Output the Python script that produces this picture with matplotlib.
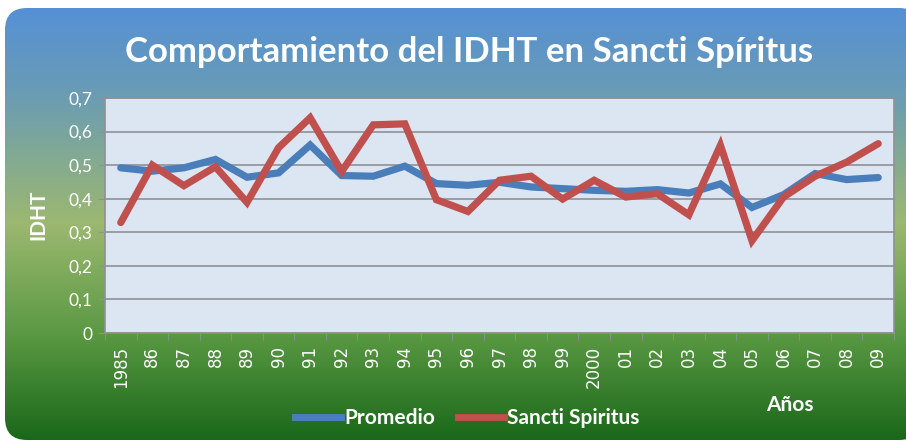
import matplotlib

matplotlib.use("Agg")
import matplotlib.pyplot as plt
import numpy as np
from matplotlib.colors import LinearSegmentedColormap
from matplotlib.patches import FancyBboxPatch
from matplotlib.lines import Line2D

YEARS = ["1985", "86", "87", "88", "89", "90", "91", "92", "93", "94", "95", "96",
         "97", "98", "99", "2000", "01", "02", "03", "04", "05", "06", "07", "08", "09"]
PROMEDIO = [0.492, 0.482, 0.492, 0.517, 0.464, 0.477, 0.560, 0.469, 0.467, 0.497,
            0.445, 0.440, 0.449, 0.435, 0.430, 0.425, 0.422, 0.427, 0.417, 0.444,
            0.374, 0.412, 0.475, 0.457, 0.463]
SANCTI = [0.329, 0.500, 0.439, 0.495, 0.389, 0.552, 0.641, 0.481, 0.620, 0.623,
          0.397, 0.362, 0.455, 0.467, 0.399, 0.455, 0.405, 0.415, 0.352, 0.559,
          0.275, 0.405, 0.467, 0.509, 0.564]
Y_TICKS = [0, 0.1, 0.2, 0.3, 0.4, 0.5, 0.6, 0.7]

W, H = 906, 444
FONT = "Lato"

fig = plt.figure(figsize=(W / 100, H / 100), dpi=100)
fig.patch.set_facecolor("white")

# background panel with vertical gradient, rounded corners
bg = fig.add_axes([0, 0, 1, 1])
bg.set_xlim(0, W)
bg.set_ylim(H, 0)
bg.axis("off")
cmap = LinearSegmentedColormap.from_list(
    "bg",
    [(0.0, "#5590d6"), (0.2, "#6a9cb4"), (0.5, "#9cb870"),
     (0.75, "#5c9a44"), (1.0, "#1a681a")],
)
grad = np.linspace(0, 1, 256).reshape(-1, 1)
img = bg.imshow(grad, cmap=cmap, aspect="auto", extent=[5, W + 30, 440, 8])
panel = FancyBboxPatch((5, 8), W + 10, 432, boxstyle="round,pad=0,rounding_size=22",
                       facecolor="none", edgecolor="none", transform=bg.transData)
bg.add_patch(panel)
img.set_clip_path(panel)

bg.text(469, 52, "Comportamiento del IDHT en Sancti Spíritus", color="white",
        fontsize=25, fontweight="bold", family=FONT, ha="center", va="center")

# main plot
left, right, top, bottom = 105, 894, 98, 333
ax = fig.add_axes([left / W, 1 - bottom / H, (right - left) / W, (bottom - top) / H])
ax.set_facecolor("#dce6f2")
x = np.arange(len(YEARS))
ax.plot(x, PROMEDIO, color="#4a7ebb", linewidth=5.2, solid_capstyle="round",
        solid_joinstyle="miter", zorder=3)
ax.plot(x, SANCTI, color="#c0504d", linewidth=5.2, solid_capstyle="round",
        solid_joinstyle="miter", zorder=4)
ax.set_xlim(-0.5, len(YEARS) - 0.5)
ax.set_ylim(0, 0.7)
ax.set_yticks(Y_TICKS)
ax.set_yticklabels([f"{v:g}".replace(".", ",") for v in Y_TICKS], color="white",
                   fontsize=12.5, family=FONT)
ax.yaxis.grid(True, color="#8e9196", linewidth=1.2)
ax.set_axisbelow(True)
ax.set_xticks(x)
ax.set_xticklabels(YEARS, rotation=90, color="white", fontsize=12, family="DejaVu Sans")
ax.set_xticks(np.arange(len(YEARS) + 1) - 0.5, minor=True)
ax.tick_params(axis="x", which="major", length=0, pad=9)
ax.tick_params(axis="x", which="minor", length=5, color="#8e9196")
ax.tick_params(axis="y", length=5, color="#8e9196", pad=4)
for s in ax.spines.values():
    s.set_color("#8e9196")
    s.set_linewidth(1.2)

bg.text(38, 215, "IDHT", color="white", fontsize=15, fontweight="bold", family=FONT,
        rotation=90, ha="center", va="center")
bg.text(790, 405, "Años", color="white", fontsize=15, fontweight="bold", family=FONT,
        ha="center", va="center")

# legend
handles = [Line2D([], [], color="#4a7ebb", linewidth=5),
           Line2D([], [], color="#c0504d", linewidth=5)]
leg = fig.legend(handles, ["Promedio", "Sancti Spiritus"], loc="center",
                 bbox_to_anchor=(467 / W, 1 - 418 / H), ncol=2, frameon=False,
                 handlelength=2.2, handletextpad=0.15, columnspacing=1.1,
                 prop={"family": FONT, "weight": "bold", "size": 15})
for t in leg.get_texts():
    t.set_color("white")

fig.savefig("out.png", dpi=100)
